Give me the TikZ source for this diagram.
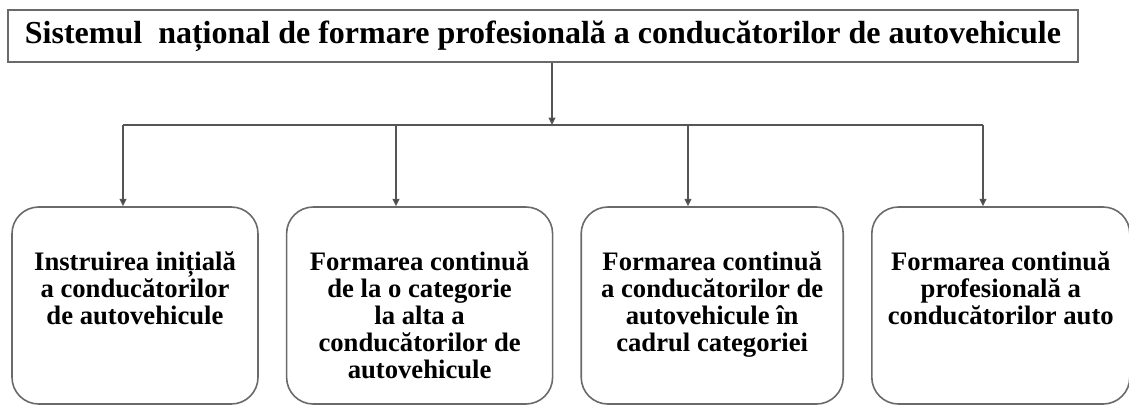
\documentclass[tikz,border=0pt]{standalone}
\usepackage{fontspec}
\setmainfont{Liberation Serif}
\usetikzlibrary{positioning, arrows.meta}
\definecolor{colour_frame}{HTML}{6a6a6a}
\definecolor{colour_link}{HTML}{555555}

\begin{document}
\begin{tikzpicture}[
    x=0.75pt, y=-0.75pt,
    font=\bfseries,
    titlebox/.style={rectangle, draw=colour_frame, line width=2pt,
                minimum width=802.5pt, minimum height=39pt, inner sep=0pt,
                font=\bfseries\fontsize{24}{26}\selectfont},
    box/.style={rectangle, draw=colour_frame, line width=1.2pt, rounded corners=20pt,
                minimum height=147.75pt, inner sep=0pt},
    lbl/.style={align=center, inner sep=0pt,
                font=\bfseries\fontsize{20}{20.3}\selectfont},
    link/.style={colour_link, line width=1.3pt},
    arrow/.style={link, -{Triangle[length=5.5pt, width=5pt, fill=black]}}
]
\useasboundingbox (0,0) rectangle (1129,405);

% Title
\node[titlebox] (sistem) at (543,36)
     {Sistemul\ \ național de formare profesională a conducătorilor de autovehicule};

% Four branches
\node[box, minimum width=184.5pt] (initiala) at (135,305.5) {};
\node[box, minimum width=199.5pt, right=20.25pt of initiala] (categorie) {};
\node[box, minimum width=196.5pt, right=20.25pt of categorie] (cadru) {};
\node[box, minimum width=193.5pt, right=20.25pt of cadru] (profesionala) {};

% Texts inside the branches
\node[lbl, below=34pt of initiala.north]
     {Instruirea inițială\\a conducătorilor\\de autovehicule};
\node[lbl, below=34pt of categorie.north]
     {Formarea continuă\\de la o categorie\\la alta a\\conducătorilor de\\autovehicule};
\node[lbl, below=34pt of cadru.north]
     {Formarea continuă\\a conducătorilor de\\autovehicule în\\cadrul categoriei};
\node[lbl, below=34pt of profesionala.north]
     {Formarea continuă\\profesională a\\conducătorilor auto};

% Junctions on the bus line
\coordinate (j0) at (552,125);
\coordinate (j1) at (123,125);
\coordinate (j2) at (396,125);
\coordinate (j3) at (688,125);
\coordinate (j4) at (983,125);

\draw[arrow] (j0 |- sistem.south) -- (j0);
\draw[link] (j1) -- (j4);
\draw[arrow] (j1) -- (j1 |- initiala.north);
\draw[arrow] (j2) -- (j2 |- categorie.north);
\draw[arrow] (j3) -- (j3 |- cadru.north);
\draw[arrow] (j4) -- (j4 |- profesionala.north);

\end{tikzpicture}
\end{document}
